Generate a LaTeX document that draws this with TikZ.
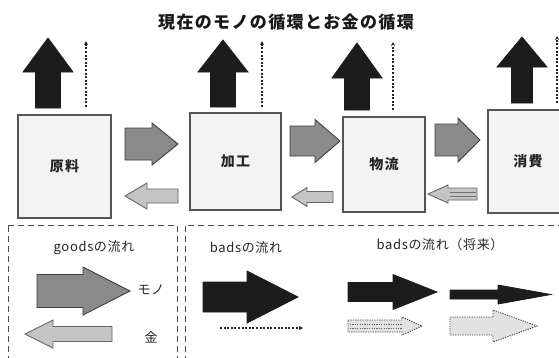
\documentclass[tikz,border=0pt]{standalone}
\usepackage{fontspec}
\newfontfamily\jp{Noto Sans CJK JP}
\newfontfamily\jpsp[LetterSpace=8]{Noto Sans CJK JP}
\newfontfamily\jplb[LetterSpace=5]{Noto Sans CJK JP}
\usetikzlibrary{arrows.meta}
\definecolor{boxfill}{HTML}{F3F3F3}
\definecolor{boxline}{HTML}{555555}
\definecolor{midgray}{HTML}{8A8A8A}
\definecolor{lightg}{HTML}{C4C4C4}
\definecolor{paleg}{HTML}{E2E2E2}
\definecolor{blk}{HTML}{1C1C1C}
% horizontal block arrow: tail x, head-base x, tip x, centre y, shaft half, head half, style
\newcommand\hblk[7]{\path[#7] (#1,#4-#5) -- (#2,#4-#5) -- (#2,#4-#6) -- (#3,#4) -- (#2,#4+#6) -- (#2,#4+#5) -- (#1,#4+#5) -- cycle;}
% vertical block arrow: centre x, bottom y, head-base y, tip y, shaft half, head half, style
\newcommand\vblk[7]{\path[#7] (#1-#5,#2) -- (#1-#5,#3) -- (#1-#6,#3) -- (#1,#4) -- (#1+#6,#3) -- (#1+#5,#3) -- (#1+#5,#2) -- cycle;}
\tikzset{
  stagebox/.style={draw=boxline, line width=1.4pt, fill=boxfill, font=\jpsp\fontsize{14}{14}\selectfont\bfseries, text=black!85},
  blackarr/.style={fill=blk, draw=blk, line width=0.8pt},
  grayarr/.style={fill=midgray, draw=black!75, line width=0.9pt},
  lightarr/.style={fill=lightg, draw=black!60, line width=0.9pt},
  dotarr/.style={fill=paleg, draw=black!75, line width=0.9pt, dash pattern=on 1.2pt off 1.2pt},
  moneyline/.style={draw=black!85, line width=1.5pt, dash pattern=on 2pt off 1.6pt, -{Stealth[length=4pt,width=4pt]}},
  frame/.style={draw=black!70, line width=0.9pt, dash pattern=on 6pt off 4pt},
  lbl/.style={font=\jplb\fontsize{13}{13}\selectfont, text=black!85},
}
\begin{document}
\begin{tikzpicture}[x=1pt,y=-1pt]
\useasboundingbox (0,0) rectangle (559,357);
\fill[white] (0,0) rectangle (559,357);

% title
\node[font=\jpsp\fontsize{17}{17}\selectfont\bfseries, text=black!90] (title) at (286,22) {現在のモノの循環とお金の循環};

% stage boxes
\node[stagebox, minimum width=93pt, minimum height=103pt] (raw) at (64.5,166.5) {\raisebox{-4pt}{原料}};
\node[stagebox, minimum width=91pt, minimum height=97pt] (proc) at (235.5,161.5) {\raisebox{-2pt}{加工}};
\node[stagebox, minimum width=82pt, minimum height=95pt] (dist) at (384,164.5) {\raisebox{-2pt}{物流}};
\node[stagebox, minimum width=80pt, minimum height=103pt] (cons) at (528,161.5) {\raisebox{-4pt}{消費}};

% upward black arrows (bads)
\vblk{48}{108}{72}{38}{12.5}{25}{blackarr}
\vblk{223}{107}{72}{40}{12.5}{25}{blackarr}
\vblk{357}{110}{78}{43}{12.5}{25}{blackarr}
\vblk{522}{103}{67}{37}{10.5}{25}{blackarr}

% dotted upward lines
\coordinate (d1a) at (86,107); \coordinate (d1b) at (86,41);
\coordinate (d2a) at (262,107); \coordinate (d2b) at (262,41);
\coordinate (d3a) at (393,110); \coordinate (d3b) at (393,42);
\coordinate (d4a) at (557,103); \coordinate (d4b) at (557,36);
\draw[moneyline] (d1a) -- (d1b);
\draw[moneyline] (d2a) -- (d2b);
\draw[moneyline] (d3a) -- (d3b);
\draw[moneyline] (d4a) -- (d4b);

% goods flow between stages
\hblk{125}{152}{178}{144}{16}{21}{grayarr}
\hblk{290}{315}{340}{141}{15}{21.5}{grayarr}
\hblk{435}{458}{480}{140}{16}{22}{grayarr}
% money flow back
\hblk{178}{147}{125}{196}{7}{13}{lightarr}
\hblk{333}{307}{292}{197}{5.5}{9.5}{lightarr}
\hblk{477}{448}{428}{194}{6}{9}{lightarr}
\draw[black!55, line width=0.6pt] (450,192) -- (476,192) (450,196) -- (476,196);

% legend frames
\draw[frame] (8,225) -- (177,225) -- (177,362) (8,362) -- (8,225);
\draw[frame] (185,362) -- (185,225) -- (565,225);

% goods legend
\node[lbl] (goods) at (94,248) {goodsの流れ};
\hblk{37}{83}{130}{291}{16.5}{24}{grayarr}
\node[lbl] (mono) at (151,290) {モノ};
\hblk{112}{53}{25}{334}{7.5}{14}{lightarr}
\node[lbl] (kane) at (151,337) {金};

% bads legend
\node[lbl] (bads) at (246,248) {badsの流れ};
\hblk{203}{247}{298}{297}{15}{26}{blackarr}
\coordinate (bl1) at (220,328); \coordinate (bl2) at (303,328);
\draw[moneyline] (bl1) -- (bl2);

% bads future legend
\node[lbl] (future) at (440,245) {badsの流れ（将来）};
\hblk{348}{393}{437}{292}{9.5}{17.5}{blackarr}
\path[blackarr] (450,290) -- (498,290) -- (498,285) -- (551,294.5) -- (498,304) -- (498,299) -- (450,299) -- cycle;
\hblk{348}{402}{422}{326}{6}{9}{dotarr}
\draw[black!60, line width=0.6pt, dash pattern=on 1.2pt off 1.2pt] (350,324) -- (402,324) (350,328) -- (402,328);
\hblk{450}{493}{537}{326}{9}{16}{dotarr}
\end{tikzpicture}
\end{document}
